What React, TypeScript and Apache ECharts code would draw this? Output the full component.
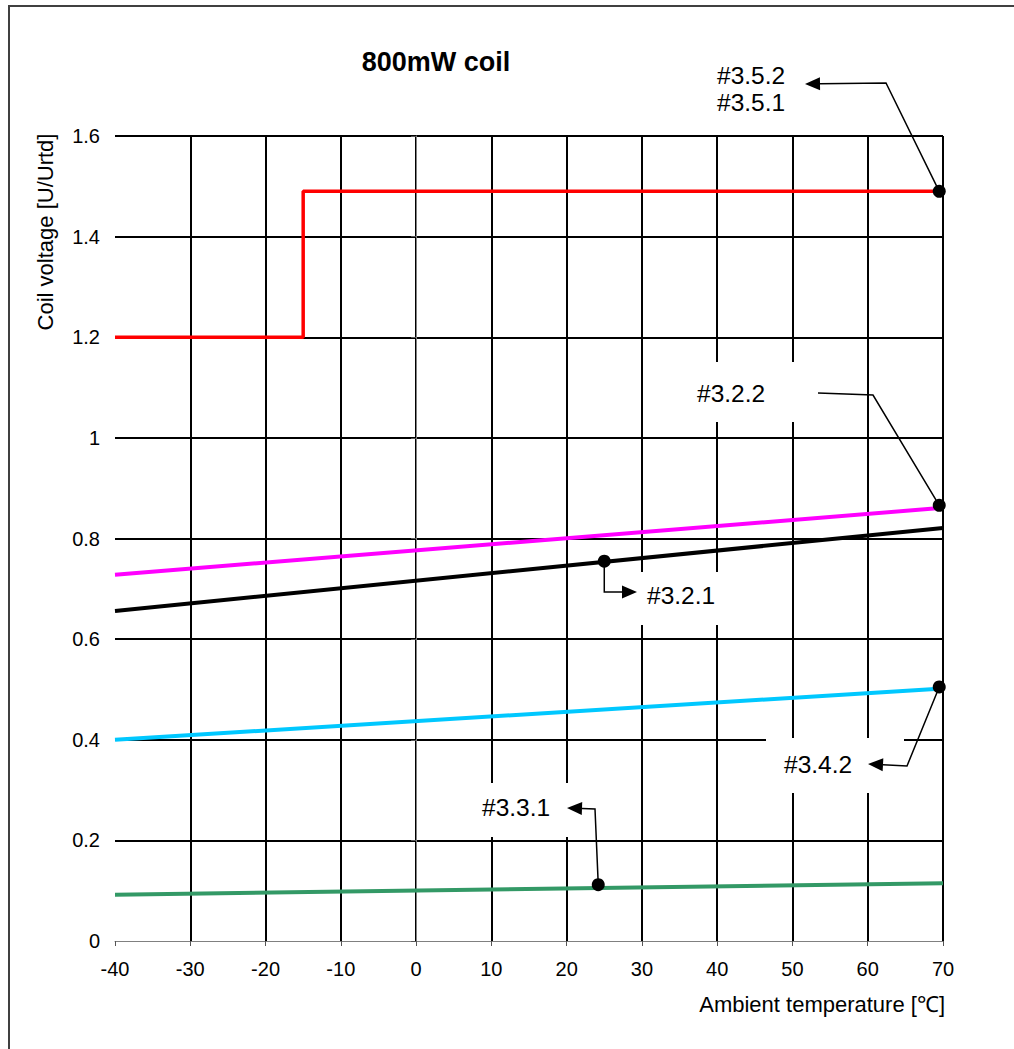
import React, { useEffect, useRef } from "react";
import * as echarts from "echarts";

// Axis settings
const xMin = -40;
const xMax = 70;
const xStep = 10;
const yMin = 0;
const yMax = 1.6;
const yStep = 0.2;

// Series (temperature °C, U/Urtd)
const red35 = [[-40, 1.2], [-15, 1.2], [-15, 1.49], [70, 1.49]];
const magenta322 = [[-40, 0.728], [70, 0.861]];
const black321 = [[-40, 0.656], [70, 0.821]];
const cyan342 = [[-40, 0.4], [70, 0.502]];
const green331 = [[-40, 0.092], [70, 0.115]];

// Call-out points
const callPoints = [
  [69.5, 1.49],
  [69.5, 0.866],
  [25, 0.755],
  [69.5, 0.505],
  [24.2, 0.112],
];
const callLabels = [["#3.5.2", "#3.5.1"], ["#3.2.2"], ["#3.2.1"], ["#3.4.2"], ["#3.3.1"]];

const FONT = '"Liberation Sans", Arial, sans-serif';

export default function App() {
  const ref = useRef<HTMLDivElement>(null);

  useEffect(() => {
    const chart = echarts.init(ref.current!, null, { renderer: "svg" });
    const lineSeries = (data: number[][], color: string, width: number) => ({
      type: "line",
      data,
      symbol: "none",
      lineStyle: { color, width },
      z: 2,
    });
    chart.setOption({
      animation: false,
      backgroundColor: "#fff",
      grid: { left: 115, right: 71, top: 136, bottom: 108 },
      xAxis: {
        type: "value",
        min: xMin,
        max: xMax,
        interval: xStep,
        axisLine: { show: true, onZero: false, lineStyle: { color: "#808080", width: 1 } },
        axisTick: { show: true, length: 5, lineStyle: { color: "#555" } },
        axisLabel: { fontFamily: "Liberation Sans", fontSize: 20, color: "#000", margin: 18 },
        splitLine: { show: true, showMinLine: false, lineStyle: { color: "#000", width: 2 } },
      },
      yAxis: {
        type: "value",
        min: yMin,
        max: yMax,
        interval: yStep,
        axisLine: { show: true, lineStyle: { color: "#808080", width: 1 } },
        axisTick: { show: true, length: 5, lineStyle: { color: "#555" } },
        axisLabel: {
          fontFamily: "Liberation Sans",
          fontSize: 20,
          color: "#000",
          margin: 15,
          formatter: (v: number) => String(Math.round(v * 10) / 10),
        },
        splitLine: { show: true, showMinLine: false, lineStyle: { color: "#000", width: 2 } },
      },
      series: [
        lineSeries(red35, "#ff0000", 3.5),
        lineSeries(magenta322, "#ff00ff", 4),
        lineSeries(black321, "#000000", 4),
        lineSeries(cyan342, "#00c8ff", 4),
        lineSeries(green331, "#339966", 4),
        {
          type: "scatter",
          data: callPoints,
          symbol: "circle",
          symbolSize: 13,
          itemStyle: { color: "#000", opacity: 1 },
          z: 3,
        },
      ],
    });

    const px = (p: number[]) => chart.convertToPixel({ gridIndex: 0 }, p) as number[];
    const dots = callPoints.map(px);

    const lineStyle = { stroke: "#000", lineWidth: 1.5, fill: "none" };
    const els: any[] = [];

    // frame
    els.push({
      type: "rect",
      silent: true,
      shape: { x: 9, y: 6, width: 1100, height: 1100 },
      style: { fill: "none", stroke: "#404040", lineWidth: 2 },
      z: 100,
    });

    // title & axis names
    els.push({
      type: "text",
      x: 436,
      y: 62,
      style: { text: "800mW coil", font: `bold 27px ${FONT}`, fill: "#000", textAlign: "center", textVerticalAlign: "middle" },
      z: 10,
    });
    els.push({
      type: "text",
      x: 45,
      y: 232,
      rotation: Math.PI / 2,
      style: { text: "Coil voltage [U/Urtd]", font: `22px ${FONT}`, fill: "#000", textAlign: "center", textVerticalAlign: "middle" },
      z: 10,
    });
    els.push({
      type: "text",
      x: 945,
      y: 1004,
      style: { text: "Ambient temperature [℃]", font: `22px ${FONT}`, fill: "#000", textAlign: "right", textVerticalAlign: "middle" },
      z: 10,
    });

    // label backgrounds (mask grid lines)
    const boxes = [
      [678, 362, 140, 60],
      [626, 572, 106, 53],
      [766, 738, 138, 55],
      [468, 783, 118, 54],
    ];
    boxes.forEach((b) =>
      els.push({ type: "rect", silent: true, shape: { x: b[0], y: b[1], width: b[2], height: b[3] }, style: { fill: "#fff" }, z: 1 })
    );

    // label texts
    const labelPos = [
      [[717, 75], [717, 102]],
      [[697, 393]],
      [[647, 595]],
      [[784, 764]],
      [[482, 807]],
    ];
    callLabels.forEach((ls, i) =>
      ls.forEach((t, j) =>
        els.push({
          type: "text",
          x: labelPos[i][j][0],
          y: labelPos[i][j][1],
          style: { text: t, font: `24.5px ${FONT}`, fill: "#000", textAlign: "left", textVerticalAlign: "middle" },
          z: 10,
        })
      )
    );

    // leader lines with optional arrow heads at the last vertex
    const arrowLine = (pts: number[][], arrow: boolean) => {
      const n = pts.length;
      let line = pts;
      if (arrow) {
        const tip = pts[n - 1];
        const prev = pts[n - 2];
        const dx = tip[0] - prev[0];
        const dy = tip[1] - prev[1];
        const len = Math.hypot(dx, dy);
        const ux = dx / len;
        const uy = dy / len;
        const L = 15;
        const W = 6.5;
        const base = [tip[0] - ux * L, tip[1] - uy * L];
        line = [...pts.slice(0, n - 1), base];
        els.push({
          type: "polygon",
          silent: true,
          shape: {
            points: [
              tip,
              [base[0] - uy * W, base[1] + ux * W],
              [base[0] + uy * W, base[1] - ux * W],
            ],
          },
          style: { fill: "#000" },
          z: 10,
        });
      }
      els.push({ type: "polyline", silent: true, shape: { points: line }, style: lineStyle, z: 10 });
    };

    arrowLine([dots[0], [886, 83], [805, 84]], true);
    arrowLine([[818, 393], [873, 395], dots[1]], false);
    arrowLine([dots[2], [dots[2][0], 592], [637, 592]], true);
    arrowLine([dots[3], [907, 766], [868, 764]], true);
    arrowLine([dots[4], [595, 809], [567, 808]], true);

    chart.setOption({ graphic: els });

    return () => chart.dispose();
  }, []);

  return (
    <div
      ref={ref}
      style={{ position: "absolute", left: 0, top: 0, width: 1014, height: 1049, background: "#fff" }}
    />
  );
}
